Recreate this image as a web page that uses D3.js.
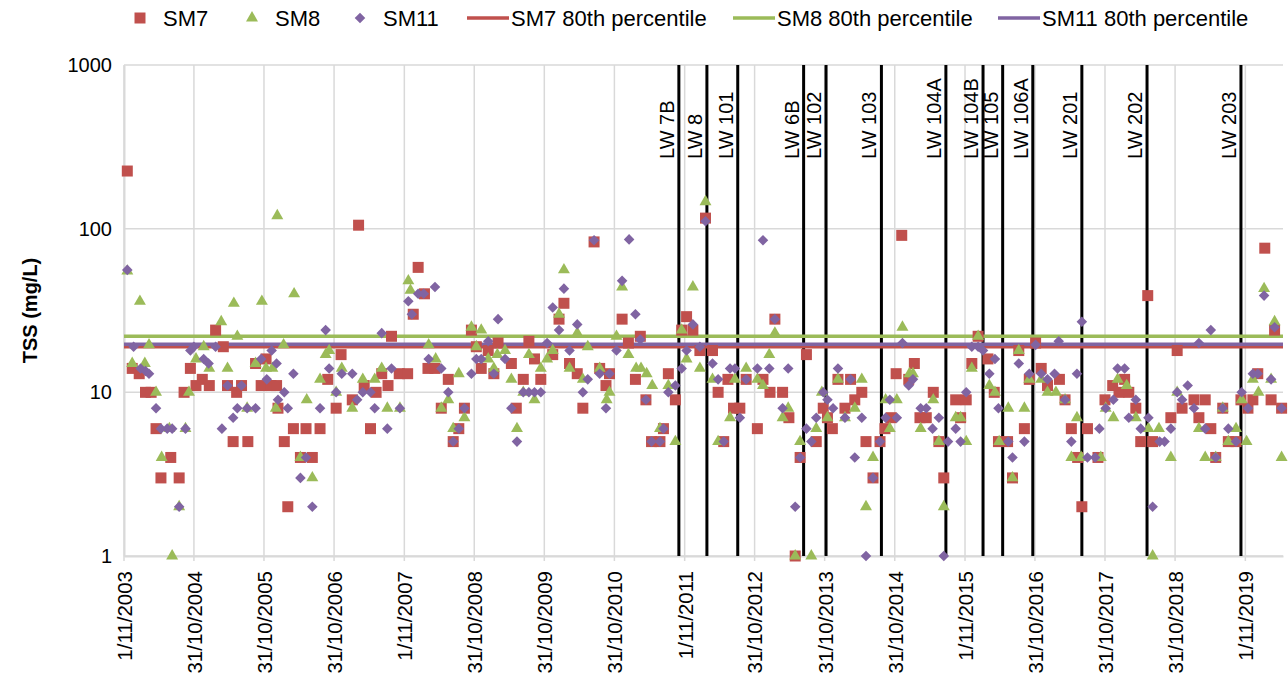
<!DOCTYPE html>
<html>
<head>
<meta charset="utf-8">
<script src="https://d3js.org/d3.v7.min.js"></script>
<style>
body { margin: 0; background: #fff; }
text { font-family: "Liberation Sans", Arial, sans-serif; fill: #000; }
</style>
</head>
<body>
<svg id="chart" width="1288" height="692"></svg>
<script>
// sample times are decimal years, values are TSS in mg/L

var xTickLabels = ['1/11/2003','31/10/2004','31/10/2005','31/10/2006','1/11/2007','31/10/2008',
  '31/10/2009','31/10/2010','1/11/2011','31/10/2012','31/10/2013','31/10/2014','1/11/2015',
  '31/10/2016','31/10/2017','31/10/2018','1/11/2019']
var yTicks = [1, 10, 100, 1000]

var sm7 = [[2003.88,225],[2003.95,14],[2004.05,13],[2004.14,10],[2004.22,10],[2004.29,6],[2004.36,3],
  [2004.50,4],[2004.62,3],[2004.69,10],[2004.78,14],[2004.86,11],[2004.95,12],[2005.05,11],[2005.14,24],
  [2005.25,19],[2005.31,11],[2005.39,5],[2005.44,10],[2005.51,11],[2005.60,5],[2005.71,15],[2005.79,11],
  [2005.86,16],[2005.93,11],[2006.01,11],[2006.03,8],[2006.12,5],[2006.17,2],[2006.25,6],[2006.35,4],
  [2006.43,6],[2006.52,4],[2006.63,6],[2006.74,12],[2006.86,8],[2006.93,17],[2007.09,9],[2007.18,105],
  [2007.26,11],[2007.35,6],[2007.43,10],[2007.51,13],[2007.60,11],[2007.65,22],[2007.76,13],[2007.88,13],
  [2007.96,30],[2008.03,58],[2008.12,40],[2008.17,14],[2008.27,14],[2008.36,8],[2008.46,12],[2008.53,5],
  [2008.61,6],[2008.69,8],[2008.79,24],[2008.86,19],[2008.93,14],[2009.03,18],[2009.11,13],[2009.17,20],
  [2009.36,15],[2009.43,8],[2009.53,12],[2009.61,20.5],[2009.69,16],[2009.78,12],[2009.95,17],[2010.04,28],
  [2010.11,35],[2010.19,15],[2010.30,13],[2010.38,8],[2010.54,83],[2010.62,14],[2010.71,11],[2010.76,13],
  [2010.94,28],[2011.03,20],[2011.13,12],[2011.20,22],[2011.28,9],[2011.36,5],[2011.48,5],[2011.53,6],
  [2011.60,13],[2011.70,9],[2011.79,24],[2011.86,29],[2011.95,24],[2012.05,18],[2012.13,116],[2012.23,18],
  [2012.31,10],[2012.39,5],[2012.45,12],[2012.53,8],[2012.62,8],[2012.71,12],[2012.87,6],[2012.95,12],
  [2013.05,10],[2013.12,28],[2013.23,10],[2013.32,7],[2013.41,1],[2013.48,4],[2013.57,17],[2013.71,5],
  [2013.81,8],[2013.87,7],[2013.94,6],[2014.02,12],[2014.12,8],[2014.20,12],[2014.26,9],[2014.36,10],
  [2014.42,5],[2014.52,3],[2014.62,5],[2014.69,6],[2014.78,7],[2014.85,13],[2014.93,91],[2015.03,12],
  [2015.11,15],[2015.19,7],[2015.28,7],[2015.38,10],[2015.46,5],[2015.53,3],[2015.70,9],[2015.77,7],
  [2015.85,9],[2015.93,15],[2016.02,22],[2016.16,16],[2016.25,10],[2016.31,5],[2016.44,5],[2016.51,3],
  [2016.60,18],[2016.68,6],[2016.75,12],[2016.84,20],[2016.92,14],[2017.01,11],[2017.18,12],[2017.26,9],
  [2017.35,6],[2017.44,4],[2017.50,2],[2017.58,6],[2017.73,4],[2017.83,9],[2017.94,11],[2018.03,10],
  [2018.11,12],[2018.17,10],[2018.27,8],[2018.34,5],[2018.44,39],[2018.51,5],[2018.77,7],[2018.86,18],
  [2018.93,8],[2019.10,9],[2019.17,7],[2019.26,9],[2019.34,6],[2019.41,4],[2019.51,8],[2019.59,5],
  [2019.70,5],[2019.77,9],[2019.87,8],[2019.94,9],[2020.01,13],[2020.11,76],[2020.20,9],[2020.25,24],
  [2020.35,8]]

var sm8 = [[2003.88,55],[2003.95,15],[2004.06,36],[2004.13,15],[2004.19,19.5],[2004.29,10],[2004.37,4],
  [2004.48,6],[2004.52,1],[2004.62,2],[2004.71,6],[2004.76,10],[2004.86,16],[2004.97,19],[2005.05,14],
  [2005.22,27],[2005.31,14],[2005.40,35],[2005.45,22],[2005.59,8],[2005.71,15],[2005.80,36],[2005.86,14],
  [2005.95,14],[2006.00,8],[2006.02,120],[2006.11,19.5],[2006.26,40],[2006.35,4],[2006.44,9],[2006.52,3],
  [2006.63,12],[2006.71,17],[2006.76,18],[2006.86,10],[2006.94,14],[2007.09,8],[2007.24,12],[2007.41,12],
  [2007.51,14],[2007.59,8],[2007.77,8],[2007.89,48],[2007.92,42],[2008.18,19.5],[2008.28,16],[2008.36,8],
  [2008.46,9],[2008.53,6],[2008.61,13],[2008.69,7],[2008.79,25],[2008.86,19],[2008.93,24],[2009.03,16],
  [2009.11,14],[2009.16,17],[2009.27,18],[2009.36,12],[2009.44,6],[2009.53,10],[2009.61,17],[2009.69,9],
  [2009.78,14],[2009.87,16],[2009.95,18],[2010.04,30],[2010.11,56],[2010.19,14],[2010.30,23],[2010.38,12],
  [2010.45,19],[2010.62,14],[2010.72,9],[2010.76,10],[2010.86,22],[2010.94,44],[2011.03,17],[2011.14,14],
  [2011.21,14],[2011.29,13],[2011.37,11],[2011.48,6],[2011.60,11],[2011.70,5],[2011.79,24],[2011.86,16],
  [2011.95,44],[2012.05,14],[2012.13,146],[2012.23,12],[2012.31,5],[2012.48,7],[2012.55,12],[2012.71,14],
  [2012.87,12],[2012.95,11],[2013.04,17],[2013.12,23],[2013.23,7],[2013.31,8],[2013.41,1],[2013.48,5],
  [2013.64,1],[2013.71,6],[2013.79,10],[2013.87,7],[2014.02,12],[2014.12,7],[2014.26,8],[2014.36,12],
  [2014.42,2],[2014.52,4],[2014.70,9],[2014.76,6],[2014.86,9],[2014.94,25],[2015.04,13],[2015.09,13],
  [2015.20,6],[2015.38,9],[2015.46,5],[2015.53,2],[2015.70,7],[2015.77,7],[2015.85,5],[2015.93,14],
  [2016.02,22],[2016.18,11],[2016.26,10],[2016.32,5],[2016.45,8],[2016.51,3],[2016.60,18],[2016.68,8],
  [2016.75,12],[2016.92,12],[2017.01,10],[2017.13,10],[2017.26,9],[2017.35,4],[2017.43,7],[2017.49,4],
  [2017.77,4],[2017.84,8],[2017.95,7],[2018.01,12],[2018.14,11],[2018.27,7],[2018.45,6],[2018.51,1],
  [2018.60,6],[2018.77,4],[2018.86,10],[2019.17,6],[2019.26,4],[2019.41,4],[2019.51,8],[2019.59,5],
  [2019.70,6],[2019.78,9],[2019.85,5],[2019.94,12],[2020.02,10],[2020.10,43],[2020.20,12],[2020.25,27],
  [2020.35,4]]

var sm11 = [[2003.88,56],[2003.97,19],[2004.07,14],[2004.14,13.5],[2004.19,13],[2004.29,8],[2004.36,6],
  [2004.45,6],[2004.52,6],[2004.62,2],[2004.71,6],[2004.78,18],[2004.83,19],[2004.97,16],[2005.04,15],
  [2005.14,19],[2005.23,6],[2005.31,11],[2005.39,7],[2005.45,8],[2005.51,11],[2005.59,8],[2005.71,8],
  [2005.79,16],[2005.87,12],[2005.94,18],[2006.01,15],[2006.03,9],[2006.12,10],[2006.17,8],[2006.25,13],
  [2006.35,3],[2006.43,4],[2006.52,2],[2006.63,8],[2006.71,24],[2006.76,14],[2006.86,10],[2006.94,13],
  [2007.09,13],[2007.16,9],[2007.24,10],[2007.35,10],[2007.41,8],[2007.51,23],[2007.59,6],[2007.65,14],
  [2007.77,8],[2007.89,36],[2007.94,30],[2008.03,40],[2008.11,40],[2008.18,16],[2008.27,44],[2008.36,14],
  [2008.46,10],[2008.53,5],[2008.61,6],[2008.69,8],[2008.79,13],[2008.86,16],[2008.93,16],[2009.03,20.5],
  [2009.11,13],[2009.17,28],[2009.27,16],[2009.36,8],[2009.44,5],[2009.53,10],[2009.61,10],[2009.69,10],
  [2009.78,10],[2009.87,20],[2009.95,33],[2010.04,24],[2010.11,43],[2010.19,18],[2010.30,26],[2010.38,10],
  [2010.45,12],[2010.54,85],[2010.62,13],[2010.71,8],[2010.76,13],[2010.86,18],[2010.94,48],[2011.04,86],
  [2011.13,30],[2011.20,21],[2011.28,9],[2011.36,5],[2011.48,5],[2011.53,6],[2011.60,10],[2011.70,11],
  [2011.79,14],[2011.86,18],[2011.95,26],[2012.05,19],[2012.13,111],[2012.23,15],[2012.31,12],[2012.39,5],
  [2012.48,14],[2012.55,14],[2012.62,7],[2012.71,12],[2012.87,14],[2012.95,85],[2013.04,14],[2013.12,28],
  [2013.23,8],[2013.31,14],[2013.41,2],[2013.48,4],[2013.57,6],[2013.64,5],[2013.71,7],[2013.81,10],
  [2013.87,9],[2013.95,8],[2014.02,14],[2014.12,7],[2014.20,12],[2014.26,4],[2014.36,7],[2014.42,1],
  [2014.52,3],[2014.62,5],[2014.70,7],[2014.76,9],[2014.86,7],[2014.94,20],[2015.03,11],[2015.09,12],
  [2015.20,8],[2015.28,8],[2015.37,6],[2015.46,7],[2015.53,1],[2015.59,5],[2015.70,6],[2015.77,5],
  [2015.85,10],[2015.93,19],[2016.02,19],[2016.09,18],[2016.18,13],[2016.26,16],[2016.31,8],[2016.45,5],
  [2016.51,4],[2016.60,15],[2016.68,5],[2016.75,13],[2016.84,19.5],[2016.92,13],[2017.01,12],[2017.11,13],
  [2017.17,20.5],[2017.26,9],[2017.35,5],[2017.43,13],[2017.50,27],[2017.58,4],[2017.69,4],[2017.75,6],
  [2017.84,8],[2017.95,9],[2018.01,14],[2018.11,14],[2018.17,7],[2018.27,9],[2018.34,6],[2018.45,7],
  [2018.51,2],[2018.61,5],[2018.68,5],[2018.77,6],[2018.86,10],[2018.93,9],[2019.01,11],[2019.10,8],
  [2019.17,20],[2019.26,6],[2019.34,24],[2019.41,4],[2019.51,8],[2019.59,6],[2019.70,5],[2019.78,10],
  [2019.87,8],[2019.94,13],[2020.01,13],[2020.10,39],[2020.20,12],[2020.25,25],[2020.35,8]]

var seriesNames = ['SM7', 'SM8', 'SM11']
var pctLabels = ['SM7 80th percentile', 'SM8 80th percentile', 'SM11 80th percentile']
var pctValues = [19, 22, 19.7]

var lwNames = ['LW 7B','LW 8','LW 101','LW 6B','LW 102','LW 103','LW 104A','LW 104B','LW 105','LW 106A','LW 201','LW 202','LW 203']
var lwDates = [2011.75, 2012.15, 2012.59, 2013.53, 2013.85, 2014.64, 2015.56, 2016.09, 2016.37, 2016.80, 2017.50, 2018.43, 2019.77]

var colors = ['#C0504D', '#9BBB59', '#8064A2']

// "d/m/yyyy" -> decimal year
function decYear(s) {
  var p = s.split('/').map(Number)
  var d = new Date(p[2], p[1] - 1, p[0])
  var y0 = new Date(p[2], 0, 1), y1 = new Date(p[2] + 1, 0, 1)
  return p[2] + (d - y0) / (y1 - y0)
}

var pL = 124, pR = 1283, pT = 65, pB = 556

var svg = d3.select('#chart')

var x = d3.scaleLinear().domain([decYear('1/11/2003'), 2020.37]).range([pL, pR])
var y = d3.scaleLog().domain([1, 1000]).range([pB, pT])

var tickPos = xTickLabels.map(decYear)

// grid
svg.append('g').selectAll('line').data(tickPos).enter().append('line')
  .attr('x1', d => x(d)).attr('x2', d => x(d))
  .attr('y1', pT).attr('y2', pB + 5)
  .attr('stroke', '#d9d9d9').attr('stroke-width', 1.5)
svg.append('g').selectAll('line').data(yTicks).enter().append('line')
  .attr('x1', pL).attr('x2', pR)
  .attr('y1', d => y(d)).attr('y2', d => y(d))
  .attr('stroke', '#d9d9d9').attr('stroke-width', 1.5)

// axes
var xAxis = svg.append('g').attr('transform', 'translate(0,' + pB + ')')
  .call(d3.axisBottom(x).tickValues(tickPos).tickSize(0).tickFormat((d, i) => xTickLabels[i]))
xAxis.select('.domain').attr('stroke', '#d9d9d9').attr('stroke-width', 2)
xAxis.selectAll('text')
  .attr('transform', 'rotate(-90)')
  .attr('x', -15).attr('y', 0).attr('dy', '0.36em')
  .style('text-anchor', 'end')
  .style('font-size', '20.5px')
  .style('font-family', '"Liberation Sans", Arial, sans-serif')

var yAxis = svg.append('g').attr('transform', 'translate(' + pL + ',0)')
  .call(d3.axisLeft(y).tickValues(yTicks).tickSize(0).tickFormat(d3.format('d')))
yAxis.select('.domain').attr('stroke', '#d9d9d9').attr('stroke-width', 2)
yAxis.selectAll('text')
  .attr('x', -12)
  .style('font-size', '20px')
  .style('font-family', '"Liberation Sans", Arial, sans-serif')

svg.append('text')
  .attr('transform', 'translate(37,' + ((pT + pB) / 2) + ') rotate(-90)')
  .attr('text-anchor', 'middle')
  .style('font-size', '20px').style('font-weight', 'bold')
  .text('TSS (mg/L)')

// longwall markers
var lw = svg.append('g')
lw.selectAll('line').data(lwDates).enter().append('line')
  .attr('x1', d => x(d)).attr('x2', d => x(d))
  .attr('y1', pT).attr('y2', pB)
  .attr('stroke', '#000').attr('stroke-width', 3)
lw.selectAll('text').data(lwNames).enter().append('text')
  .attr('transform', (d, i) => 'translate(' + (x(lwDates[i]) - 5) + ',159) rotate(-90)')
  .style('font-size', '20px')
  .text(d => d)

// 80th percentile lines
svg.append('g').selectAll('line').data(pctValues).enter().append('line')
  .attr('x1', pL).attr('x2', pR)
  .attr('y1', d => y(d)).attr('y2', d => y(d))
  .attr('stroke', (d, i) => colors[i]).attr('stroke-width', 3.5)

// markers
var shapes = [
  d3.symbol().type(d3.symbolSquare).size(121),
  d3.symbol().type(d3.symbolTriangle).size(62),
  d3.symbol().type(d3.symbolSquare).size(56)
]
var rot = [0, 0, 45]

;[sm7, sm8, sm11].forEach(function (data, k) {
  svg.append('g').selectAll('path').data(data).enter().append('path')
    .attr('d', shapes[k])
    .attr('transform', d => 'translate(' + x(d[0]) + ',' + y(d[1]) + ') rotate(' + rot[k] + ')')
    .attr('fill', colors[k])
})

// legend
var leg = svg.append('g')
var markX = [140, 252, 360]
seriesNames.forEach(function (n, k) {
  leg.append('path').attr('d', shapes[k])
    .attr('transform', 'translate(' + markX[k] + ',18) rotate(' + rot[k] + ')')
    .attr('fill', colors[k])
  leg.append('text').attr('x', markX[k] + 23).attr('y', 26).style('font-size', '22px').text(n)
})
var lineX = [467, 733, 998]
pctLabels.forEach(function (n, k) {
  leg.append('line').attr('x1', lineX[k]).attr('x2', lineX[k] + 42)
    .attr('y1', 18).attr('y2', 18)
    .attr('stroke', colors[k]).attr('stroke-width', 3.5)
  leg.append('text').attr('x', lineX[k] + 44).attr('y', 26).style('font-size', '22px').text(n)
})
</script>
</body>
</html>
